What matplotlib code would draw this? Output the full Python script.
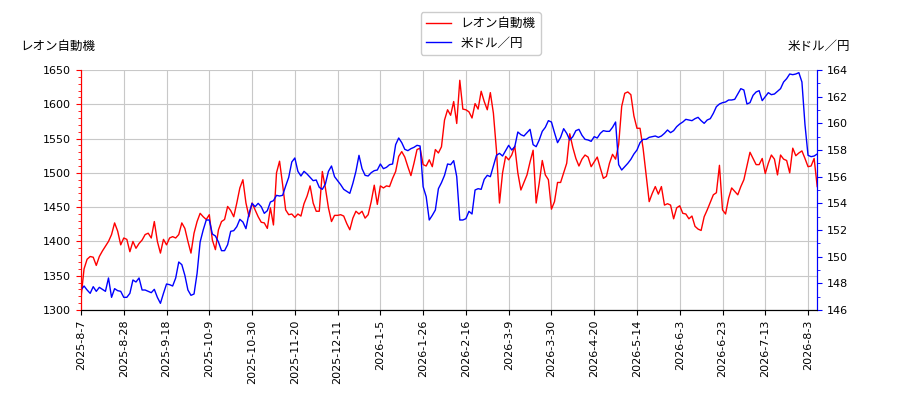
import matplotlib
matplotlib.use("Agg")
import matplotlib.pyplot as plt
import numpy as np
from matplotlib.ticker import MultipleLocator
from matplotlib.font_manager import FontProperties

# 系列名
name_left = "レオン自動機"
name_right = "米ドル／円"

# x軸ラベル(14営業日ごと)
tick_labels = [
    "2025-8-7", "2025-8-28", "2025-9-18", "2025-10-9", "2025-10-30",
    "2025-11-20", "2025-12-11", "2026-1-5", "2026-1-26", "2026-2-16",
    "2026-3-9", "2026-3-30", "2026-4-20", "2026-5-14", "2026-6-3",
    "2026-6-23", "2026-7-13", "2026-8-3",
]
tick_step = 14

# 株価 (円)
leon = [
    1318, 1360, 1374, 1378, 1377, 1365, 1378, 1386, 1393, 1400, 1410, 1427, 1415, 1395, 1405,
    1403, 1385, 1400, 1390, 1397, 1402, 1410, 1412, 1405, 1429, 1400, 1383, 1403, 1395, 1405,
    1407, 1405, 1410, 1427, 1419, 1400, 1383, 1412, 1429, 1441, 1436, 1432, 1439, 1402, 1388,
    1417, 1429, 1432, 1451, 1445, 1436, 1456, 1478, 1490, 1456, 1436, 1456, 1446, 1436, 1428,
    1427, 1419, 1449, 1424, 1500, 1517, 1483, 1446, 1439, 1440, 1435, 1440, 1437, 1455, 1466,
    1481, 1456, 1444, 1444, 1502, 1478, 1449, 1429, 1438, 1438, 1439, 1437, 1426, 1417, 1434,
    1444, 1440, 1444, 1434, 1439, 1458, 1482, 1454, 1481, 1478, 1481, 1480, 1492, 1502, 1524,
    1531, 1523, 1509, 1496, 1514, 1534, 1536, 1512, 1510, 1519, 1509, 1534, 1529, 1538, 1577,
    1592, 1584, 1604, 1572, 1635, 1593, 1592, 1589, 1580, 1601, 1593, 1619, 1604, 1592, 1617,
    1587, 1533, 1456, 1500, 1524, 1519, 1526, 1539, 1500, 1475, 1486, 1497, 1516, 1533, 1456,
    1485, 1518, 1497, 1490, 1447, 1458, 1486, 1486, 1500, 1514, 1557, 1537, 1521, 1510, 1520,
    1526, 1523, 1509, 1516, 1523, 1507, 1492, 1495, 1514, 1527, 1520, 1541, 1597, 1616, 1618,
    1614, 1583, 1565, 1565, 1536, 1497, 1458, 1470, 1480, 1469, 1480, 1453, 1455, 1453, 1433,
    1449, 1452, 1441, 1440, 1433, 1437, 1422, 1418, 1416, 1436, 1446, 1457, 1468, 1471, 1511,
    1446, 1440, 1463, 1478, 1473, 1468, 1480, 1490, 1510, 1530, 1521, 1512, 1512, 1521, 1499,
    1514, 1526, 1520, 1497, 1526, 1520, 1518, 1500, 1536, 1525, 1529, 1532, 1521, 1509, 1510,
    1521, 1480,
]

# 為替 (円/ドル)
usdjpy = [
    147.5, 147.8, 147.5, 147.25, 147.75, 147.4, 147.7, 147.55, 147.4, 148.4, 146.95, 147.6,
    147.45, 147.4, 146.95, 146.95, 147.25, 148.25, 148.1, 148.4, 147.5, 147.5, 147.4, 147.3,
    147.55, 146.95, 146.5, 147.25, 147.95, 147.9,
    147.8, 148.4, 149.6, 149.4, 148.6, 147.5, 147.1, 147.2, 148.75, 151.1, 152.0, 152.75,
    152.75, 151.7, 151.55, 151.1, 150.45, 150.45, 150.9, 151.9, 151.95, 152.25, 152.8, 152.6,
    152.1, 153.25, 154.0, 153.75, 154.0, 153.75,
    153.25, 153.45, 154.1, 154.2, 154.6, 154.55, 154.6, 155.3, 155.95, 157.1, 157.4, 156.4,
    156.05, 156.4, 156.2, 155.95, 155.7, 155.75, 155.2, 155.05, 155.45, 156.4, 156.8, 156.0,
    155.7, 155.4, 155.05, 154.9, 154.75, 155.5,
    156.4, 157.6, 156.6, 156.1, 156.05, 156.3, 156.45, 156.5, 156.95, 156.6, 156.7, 156.9,
    156.95, 158.4, 158.9, 158.55, 158.05, 157.95, 158.1, 158.2, 158.35, 158.3, 155.25, 154.5,
    152.75, 153.1, 153.5, 155.1, 155.55, 156.1,
    156.95, 156.9, 157.2, 156.0, 152.75, 152.75, 152.85, 153.4, 153.2, 155.0, 155.1, 155.05,
    155.8, 156.1, 156.0, 156.8, 157.6, 157.75, 157.55, 157.95, 158.35, 158.0, 158.25, 159.35,
    159.15, 159.05, 159.3, 159.55, 158.4, 158.25,
    158.75, 159.4, 159.7, 160.2, 160.1, 159.3, 158.55, 158.95, 159.6, 159.25, 158.75, 159.0,
    159.45, 159.55, 159.1, 158.8, 158.75, 158.65, 159.0, 158.9, 159.25, 159.45, 159.4, 159.4,
    159.7, 160.1, 156.9, 156.5, 156.75, 157.0,
    157.3, 157.7, 158.0, 158.55, 158.8, 158.8, 158.95, 159.0, 159.05, 158.95, 159.05, 159.25,
    159.5, 159.3, 159.45, 159.75, 159.95, 160.1, 160.3, 160.25, 160.2, 160.35, 160.45, 160.2,
    160.0, 160.25, 160.35, 160.75, 161.25, 161.45,
    161.55, 161.6, 161.75, 161.75, 161.8, 162.2, 162.6, 162.5, 161.45, 161.55, 162.1, 162.35,
    162.45, 161.7, 162.0, 162.3, 162.15, 162.2, 162.4, 162.6, 163.1, 163.35, 163.7, 163.65,
    163.7, 163.8, 163.1, 159.9, 157.6, 157.5, 157.55, 157.7,
]

jp = FontProperties(family=["Noto Sans CJK JP", "DejaVu Sans"], size=9)
jp_leg = FontProperties(family=["Noto Sans CJK JP", "DejaVu Sans"], size=9)

x = np.arange(len(leon))

fig = plt.figure(figsize=(9, 4), dpi=100)
ax1 = fig.add_axes([0.09, 0.225, 0.818, 0.6])
ax2 = ax1.twinx()

l1, = ax1.plot(x, leon, color="red", lw=1.0, label=name_left)
l2, = ax2.plot(x, usdjpy, color="blue", lw=1.0, label=name_right)

ax1.set_xlim(0, len(x) - 1)
ax1.set_ylim(1300, 1650)
ax2.set_ylim(146, 164)

ax1.set_xticks(np.arange(0, len(tick_labels) * tick_step, tick_step))
ax1.set_xticklabels(tick_labels, rotation=90, fontsize=8)
ax1.yaxis.set_major_locator(MultipleLocator(50))
ax1.yaxis.set_minor_locator(MultipleLocator(10))
ax2.yaxis.set_major_locator(MultipleLocator(2))
ax2.yaxis.set_minor_locator(MultipleLocator(1))

ax1.tick_params(axis="y", colors="red", labelcolor="black", labelsize=8)
ax1.tick_params(axis="y", which="minor", colors="red")
ax2.tick_params(axis="y", colors="blue", labelcolor="black", labelsize=8)
ax2.tick_params(axis="y", which="minor", colors="blue")

ax1.grid(True, color="#c8c8c8", lw=0.8)
ax1.set_axisbelow(True)

for ax in (ax1, ax2):
    ax.spines["top"].set_visible(False)
    ax.spines["left"].set_color("red")
    ax.spines["right"].set_color("blue")

fig.text(0.022, 0.885, name_left, fontproperties=jp, va="center", ha="left")
fig.text(0.944, 0.885, name_right, fontproperties=jp, va="center", ha="right")

fig.legend(handles=[l1, l2], loc="upper center", bbox_to_anchor=(0.534, 0.985),
           prop=jp_leg, framealpha=1.0)

fig.savefig("out.png", dpi=100)
